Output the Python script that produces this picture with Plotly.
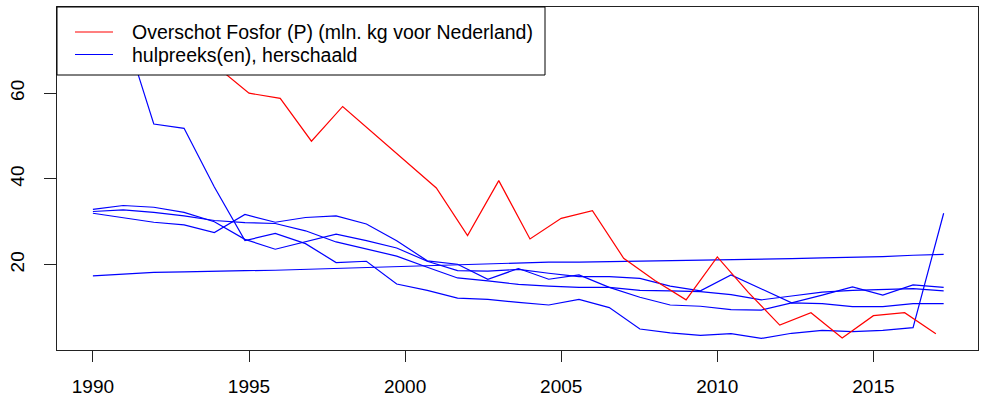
import plotly.graph_objects as go

# Annual phosphorus surplus (mln. kg, Netherlands)
years_p = list(range(1990, 2018))
overschot_p = [77.0, 73.0, 71.0, 69.0, 66.0, 60.0, 58.8, 48.8, 56.9, 50.5,
               44.3, 37.9, 26.8, 39.6, 26.0, 30.8, 32.6, 21.5, 16.3, 11.8,
               21.8, 13.5, 5.9, 8.8, 2.9, 8.1, 8.8, 3.9]

# Auxiliary (rescaled) series share one time grid
years_h = [1990.00, 1990.97, 1991.95, 1992.92, 1993.89, 1994.87, 1995.84,
           1996.81, 1997.79, 1998.76, 1999.73, 2000.71, 2001.68, 2002.65,
           2003.63, 2004.60, 2005.57, 2006.54, 2007.52, 2008.49, 2009.46,
           2010.44, 2011.41, 2012.38, 2013.36, 2014.33, 2015.30, 2016.27,
           2017.25]

hulp_a = [73.0, 75.4, 52.8, 51.8, 38.1, 25.6, 27.3, 24.9, 20.5, 20.8,
          15.5, 14.0, 12.2, 11.9, 11.2, 10.6, 11.9, 10.0, 5.0, 4.1,
          3.5, 3.9, 2.8, 4.0, 4.7, 4.4, 4.7, 5.3, 32.0]
hulp_b = [32.0, 31.0, 29.9, 29.3, 27.5, 31.7, 29.9, 31.0, 31.4, 29.5,
          25.6, 20.9, 20.1, 16.6, 19.1, 16.6, 17.6, 14.7, 12.4, 10.6,
          10.3, 9.5, 9.4, 11.1, 10.9, 10.2, 10.2, 10.9, 10.9]
hulp_c = [32.9, 33.8, 33.4, 32.2, 30.0, 25.9, 23.6, 25.4, 27.1, 25.6,
          23.9, 20.8, 18.6, 18.5, 18.9, 18.0, 17.2, 17.2, 16.8, 15.0,
          13.9, 17.6, 14.3, 11.1, 12.9, 14.8, 12.9, 15.3, 14.7]
hulp_d = [32.4, 32.8, 32.2, 31.4, 30.3, 29.8, 29.6, 27.9, 25.3, 23.6,
          22.0, 19.4, 16.9, 16.2, 15.4, 15.0, 14.7, 14.7, 14.0, 13.9,
          13.7, 13.0, 11.8, 12.7, 13.6, 14.0, 14.2, 14.4, 13.9]
hulp_e = [17.4, 17.8, 18.2, 18.3, 18.5, 18.6, 18.7, 18.9, 19.2, 19.4,
          19.5, 19.7, 20.0, 20.1, 20.3, 20.6, 20.6, 20.7, 20.8, 20.9,
          21.0, 21.1, 21.2, 21.4, 21.6, 21.7, 21.9, 22.2, 22.4]

x_ticks = [1990, 1995, 2000, 2005, 2010, 2015]
y_ticks = [20, 40, 60]
legend_labels = ["Overschot Fosfor (P) (mln. kg voor Nederland)",
                 "hulpreeks(en), herschaald"]

FONT = "Liberation Sans, Arial, sans-serif"
W, H = 992, 396
L, R, T, B = 57, 14, 7, 46
PW, PH = W - L - R, H - T - B

fig = go.Figure()
for ys in [hulp_a, hulp_b, hulp_c, hulp_d, hulp_e]:
    fig.add_trace(go.Scatter(x=years_h, y=ys, mode="lines",
                             line=dict(color="#0000ff", width=1.2),
                             showlegend=False, hoverinfo="skip"))
fig.add_trace(go.Scatter(x=years_p, y=overschot_p, mode="lines",
                         line=dict(color="#ff0000", width=1.2),
                         showlegend=False, hoverinfo="skip"))


def px(xp):
    return (xp - L) / PW


def py(yp):
    return (H - B - yp) / PH


# Boxed legend in the top-left corner
fig.add_shape(type="rect", xref="paper", yref="paper",
              x0=px(57), x1=px(545), y0=py(75), y1=py(7),
              line=dict(color="#000000", width=1), fillcolor="#ffffff",
              layer="above")
for i, (lbl, col) in enumerate(zip(legend_labels, ["#ff0000", "#0000ff"])):
    yrow = 32 + i * 22.5
    fig.add_shape(type="line", xref="paper", yref="paper",
                  x0=px(75), x1=px(113), y0=py(yrow), y1=py(yrow),
                  line=dict(color=col, width=1.2), layer="above")
    fig.add_annotation(xref="paper", yref="paper", x=px(130), y=py(yrow),
                       text=lbl, showarrow=False, xanchor="left",
                       yanchor="middle",
                       font=dict(family=FONT, size=19.5, color="#000000"))

fig.update_layout(
    width=W, height=H,
    margin=dict(l=L, r=R, t=T, b=B, pad=0, autoexpand=False),
    paper_bgcolor="#ffffff", plot_bgcolor="#ffffff",
    font=dict(family=FONT, size=19, color="#000000"),
    xaxis=dict(range=[1988.85, 2018.35], tickvals=x_ticks,
               showgrid=False, zeroline=False, automargin=False,
               showline=True, mirror=True, linecolor="#222222", linewidth=1,
               ticks="outside", ticklen=11, tickcolor="#222222",
               ticklabelstandoff=8),
    yaxis=dict(range=[0.1, 80.1], tickvals=y_ticks,
               showgrid=False, zeroline=False, automargin=False,
               showline=True, mirror=True, linecolor="#222222", linewidth=1,
               ticks="outside", ticklen=12, tickcolor="#222222",
               tickangle=-90, ticklabelstandoff=12),
)

fig.write_html("out.html")
